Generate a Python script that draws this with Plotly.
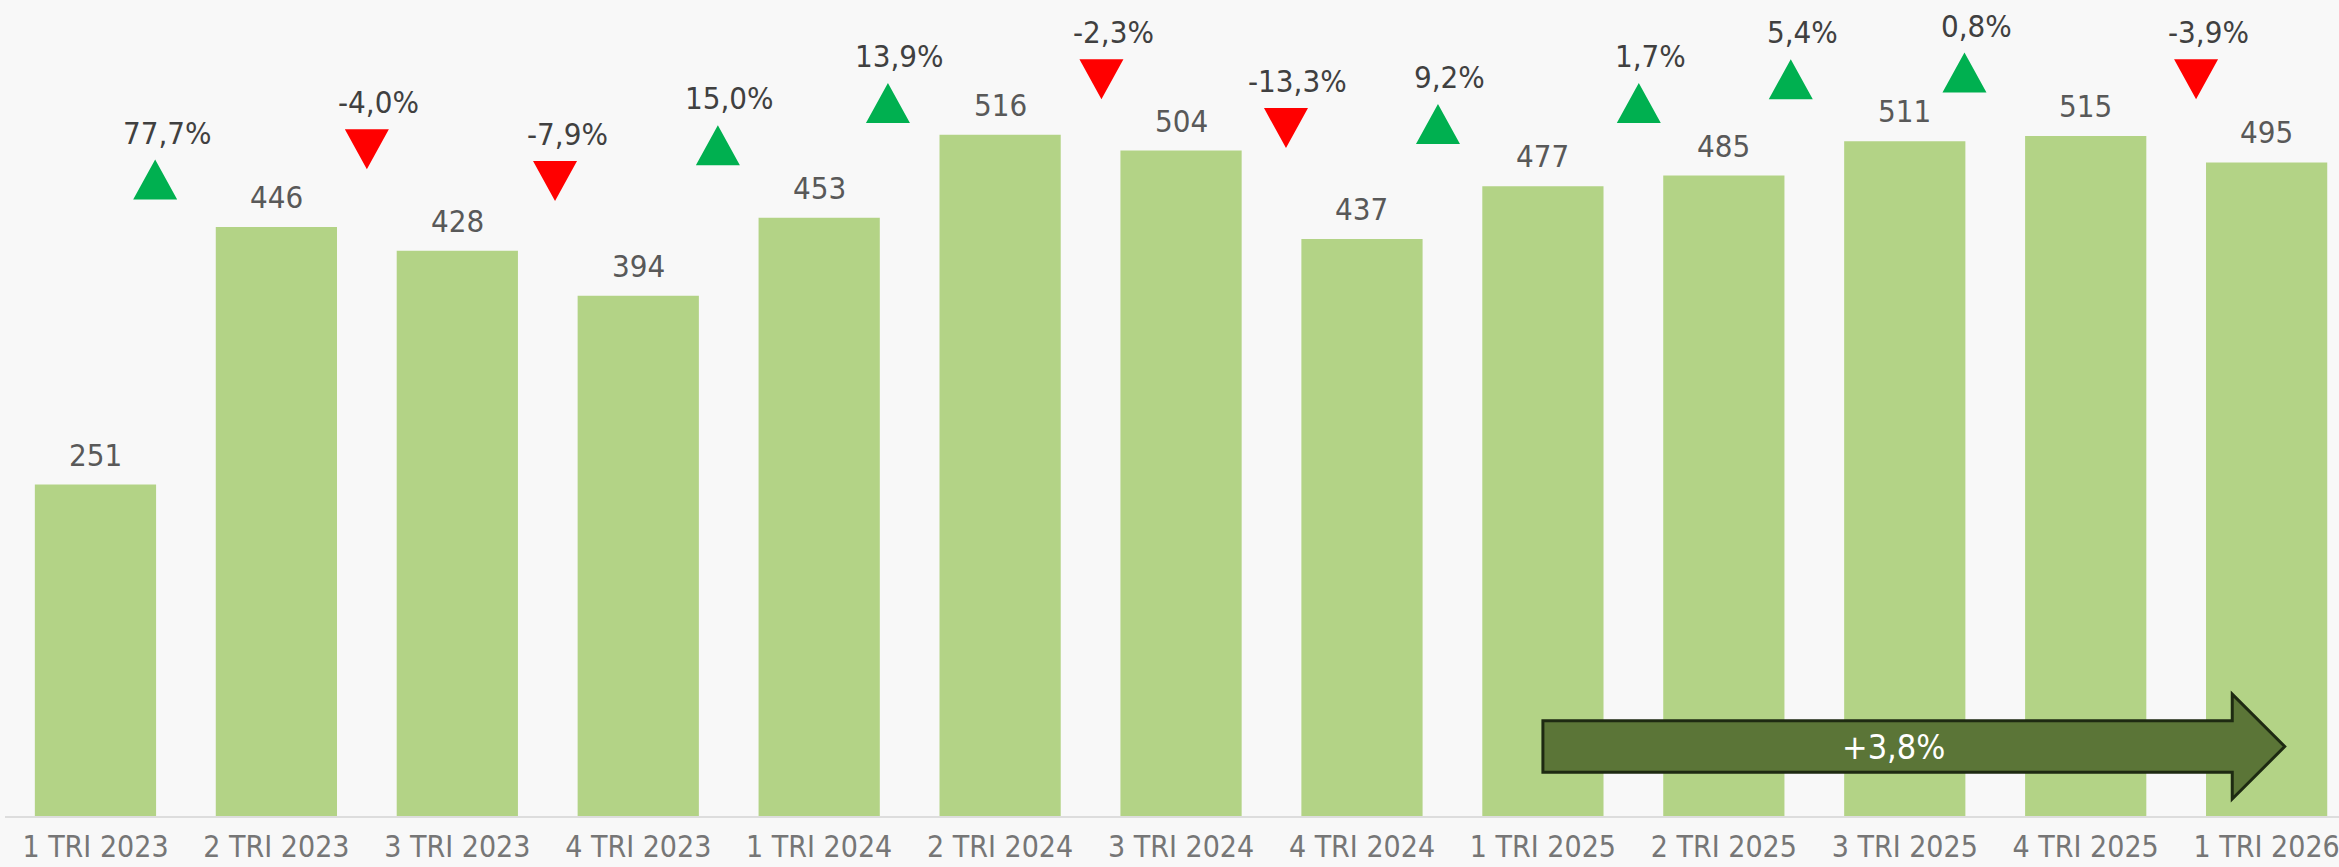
import plotly.graph_objects as go

# ---------------- data ----------------
categories = ["1 TRI 2023", "2 TRI 2023", "3 TRI 2023", "4 TRI 2023",
              "1 TRI 2024", "2 TRI 2024", "3 TRI 2024", "4 TRI 2024",
              "1 TRI 2025", "2 TRI 2025", "3 TRI 2025", "4 TRI 2025",
              "1 TRI 2026"]
values = [251, 446, 428, 394, 453, 516, 504, 437, 477, 485, 511, 515, 495]

# placement of the quarter-on-quarter change markers (read from the picture,
# x in category-index units, y in value units)
marker_x = [0.33, 1.50, 2.54, 3.44, 4.38, 5.56, 6.58, 7.42, 8.53, 9.37, 10.33, 11.61]
marker_y = [482, 505, 481, 508, 540, 558, 521, 524, 540, 558, 563, 558]

trend_from = "1 TRI 2025"
trend_to = "1 TRI 2026"

# ---------------- helpers ----------------
def fmt_pct(p, plus=False):
    s = f"{p:.1f}".replace(".", ",") + "%"
    if plus and p > 0:
        s = "+" + s
    return s

changes = [(values[i + 1] / values[i] - 1) * 100 for i in range(len(values) - 1)]

W, H = 2339, 867
M_L, M_R, M_T, M_B = 5, 0, 0, 51
X_RANGE = [-0.5, 12.4]
Y_RANGE = [0, 618]
px_per_x = (W - M_L - M_R) / (X_RANGE[1] - X_RANGE[0])
px_per_y = (H - M_T - M_B) / (Y_RANGE[1] - Y_RANGE[0])

BG = "#F8F8F8"
BAR = "#B3D386"
UP = "#00B050"
DOWN = "#FF0000"
FONT = "DejaVu Sans Condensed, Liberation Sans Narrow, DejaVu Sans, sans-serif"
FS = 31

x_idx = list(range(len(categories)))

fig = go.Figure()
fig.add_trace(go.Bar(x=x_idx, y=values, marker=dict(color=BAR, line=dict(width=0)),
                     hoverinfo="skip", showlegend=False))

# triangles (half sizes in axis units derived from pixel size)
hw = 22 / px_per_x
hh = 20 / px_per_y
for sign, color in ((1, UP), (-1, DOWN)):
    xs, ys = [], []
    for cx, cy, ch in zip(marker_x, marker_y, changes):
        if (ch >= 0) != (sign > 0):
            continue
        if sign > 0:
            xs += [cx - hw, cx + hw, cx, cx - hw, None]
            ys += [cy - hh, cy - hh, cy + hh, cy - hh, None]
        else:
            xs += [cx - hw, cx + hw, cx, cx - hw, None]
            ys += [cy + hh, cy + hh, cy - hh, cy + hh, None]
    fig.add_trace(go.Scatter(x=xs, y=ys, mode="lines", fill="toself", fillcolor=color,
                             line=dict(width=0, color=color), hoverinfo="skip",
                             showlegend=False))

annotations = []
for xi, v in zip(x_idx, values):
    annotations.append(dict(x=xi, y=v, text=str(v), showarrow=False, yanchor="middle",
                            yshift=30, font=dict(family=FONT, size=FS, color="#595959")))
for cx, cy, ch in zip(marker_x, marker_y, changes):
    annotations.append(dict(x=cx, y=cy, text=fmt_pct(ch), showarrow=False, yanchor="middle",
                            xshift=12, yshift=47, font=dict(family=FONT, size=FS, color="#404040")))

# trend arrow
i0 = categories.index(trend_from)
i1 = categories.index(trend_to)
trend = (values[i1] / values[i0] - 1) * 100
x_start = i0
x_tip = i1 + 0.1
x_head = x_tip - 0.29
y_mid = 52.6
body_half = 19.5
head_half = 39.7
path = (f"M {x_start} {y_mid - body_half} L {x_head} {y_mid - body_half} "
        f"L {x_head} {y_mid - head_half} L {x_tip} {y_mid} L {x_head} {y_mid + head_half} "
        f"L {x_head} {y_mid + body_half} L {x_start} {y_mid + body_half} Z")
shapes = [dict(type="path", path=path, xref="x", yref="y", fillcolor="#5B7537",
               line=dict(color="#1E2A12", width=3), layer="above")]
annotations.append(dict(x=(x_start + x_head) / 2 + 0.03, y=y_mid, text=fmt_pct(trend, plus=True),
                        showarrow=False, font=dict(family=FONT, size=34, color="white")))

fig.update_layout(
    width=W, height=H,
    margin=dict(l=M_L, r=M_R, t=M_T, b=M_B, autoexpand=False),
    paper_bgcolor=BG, plot_bgcolor=BG,
    bargap=0.33,
    showlegend=False,
    xaxis=dict(range=X_RANGE, tickmode="array", tickvals=x_idx, ticktext=categories,
               automargin=False, ticklabeloverflow="allow", ticklabelstandoff=3,
               showgrid=False, zeroline=False, showline=True, linecolor="#DDDDDD",
               linewidth=2, ticks="", tickfont=dict(family=FONT, size=30, color="#767676")),
    yaxis=dict(range=Y_RANGE, visible=False, showgrid=False, zeroline=False,
               automargin=False),
    shapes=shapes,
    annotations=annotations,
)

fig.write_html("out.html",
               config={"displayModeBar": False},
               post_script="document.body.style.margin='0';"
                           "document.body.style.background='" + BG + "';")
